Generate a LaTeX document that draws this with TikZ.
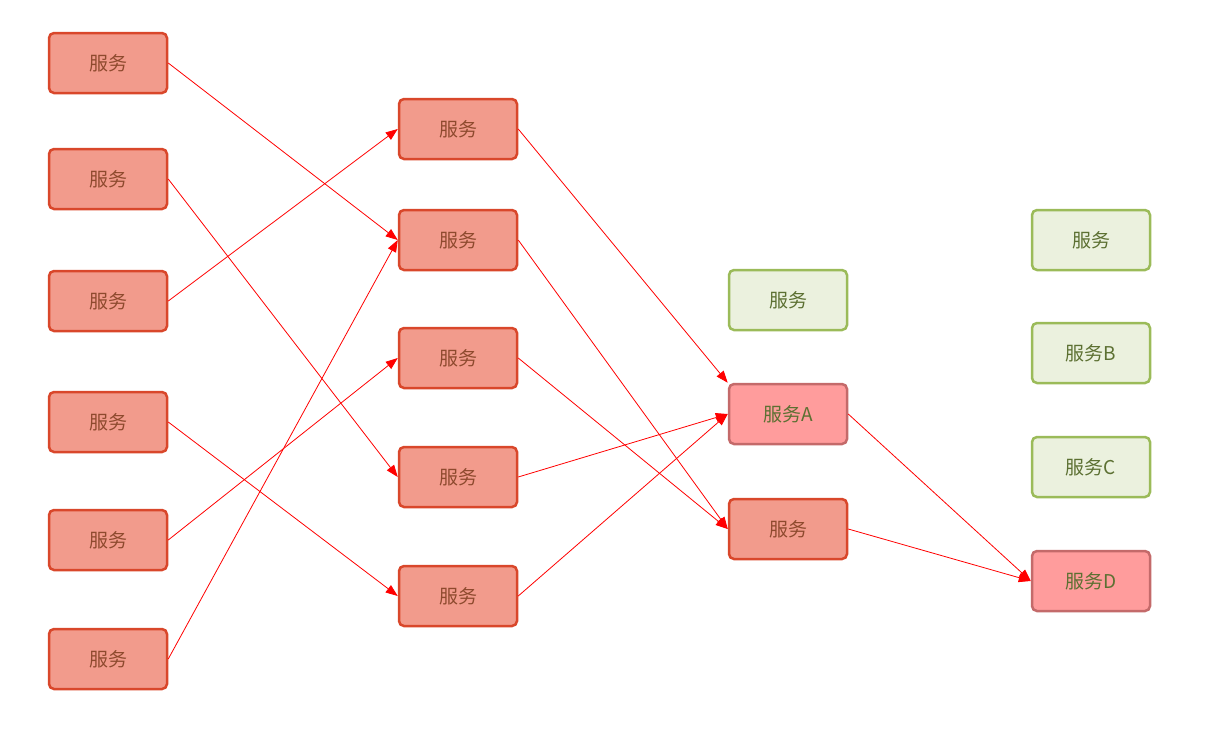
\documentclass[tikz,border=0pt]{standalone}
\usepackage{fontspec}
\newfontfamily\cjk{Noto Sans CJK SC}
\usetikzlibrary{arrows.meta}
\definecolor{rfill}{HTML}{F29B8C}
\definecolor{rdraw}{HTML}{D9472B}
\definecolor{rtext}{HTML}{8E4A2E}
\definecolor{pfill}{HTML}{FF9C9C}
\definecolor{pdraw}{HTML}{C46A6A}
\definecolor{gfill}{HTML}{EBF1DE}
\definecolor{gdraw}{HTML}{9BBB59}
\definecolor{gtext}{HTML}{5C7032}
\tikzset{
 box/.style={rounded corners=5pt,minimum width=118pt,minimum height=60pt,line width=2.5pt,font=\cjk\fontsize{19}{22}\selectfont},
 rbox/.style={box,fill=rfill,draw=rdraw,text=rtext},
 pbox/.style={box,fill=pfill,draw=pdraw,text=gtext},
 gbox/.style={box,fill=gfill,draw=gdraw,text=gtext},
 link/.style={red,line width=0.8pt,-{Triangle[length=12pt,width=9pt]}}
}
\begin{document}
\begin{tikzpicture}[x=1pt,y=-1pt]
\useasboundingbox (0,0) rectangle (1210,739);
\foreach \n/\y in {1/63,2/179,3/301,4/422,5/540,6/659}
  \node[rbox] (a\n) at (108,\y) {服务};
\foreach \n/\y in {1/129,2/240,3/358,4/477,5/596}
  \node[rbox] (b\n) at (458,\y) {服务};
\node[gbox] (c1) at (788,300) {服务};
\node[pbox] (cA) at (788,414) {服务A};
\node[rbox] (c3) at (788,529) {服务};
\node[gbox] (d1) at (1091,240) {服务};
\node[gbox] (dB) at (1091,353) {服务B};
\node[gbox] (dC) at (1091,467) {服务C};
\node[pbox] (dD) at (1091,581) {服务D};
\draw[link] (a1.east) -- (b2.west);
\draw[link] (a2.east) -- (b4.west);
\draw[link] (a3.east) -- (b1.west);
\draw[link] (a4.east) -- (b5.west);
\draw[link] (a5.east) -- (b3.west);
\draw[link] (a6.east) -- (b2.west);
\draw[link] (b1.east) -- (cA.north west);
\draw[link] (b2.east) -- (c3.west);
\draw[link] (b3.east) -- (c3.west);
\draw[link] (b4.east) -- (cA.west);
\draw[link] (b5.east) -- (cA.west);
\draw[link] (cA.east) -- (dD.west);
\draw[link] (c3.east) -- (dD.west);
\end{tikzpicture}
\end{document}
